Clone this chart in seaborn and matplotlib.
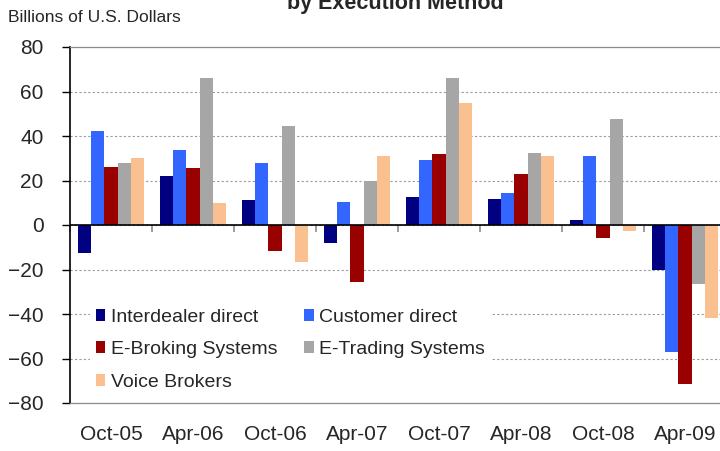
import pandas as pd
import matplotlib.pyplot as plt
import seaborn as sns

periods = ['Oct-05', 'Apr-06', 'Oct-06', 'Apr-07', 'Oct-07', 'Apr-08', 'Oct-08', 'Apr-09']
interdealer_direct = [-12.7, 22.2, 11.2, -7.9, 12.7, 11.8, 2.4, -20.0]
customer_direct = [42.1, 33.7, 27.7, 10.2, 29.2, 14.4, 31.0, -57.0]
e_broking = [26.2, 25.8, -11.7, -25.8, 32.1, 23.1, -5.7, -71.3]
e_trading = [28.0, 66.2, 44.6, 19.6, 66.2, 32.4, 47.8, -26.6]
voice_brokers = [30.1, 9.9, -16.6, 30.9, 54.8, 31.2, -2.5, -41.7]

series_names = ['Interdealer direct', 'Customer direct', 'E-Broking Systems',
                'E-Trading Systems', 'Voice Brokers']
colors = ['#000080', '#3366FF', '#990000', '#A6A6A6', '#FAC090']

wide = pd.DataFrame({
    'period': periods,
    'Interdealer direct': interdealer_direct,
    'Customer direct': customer_direct,
    'E-Broking Systems': e_broking,
    'E-Trading Systems': e_trading,
    'Voice Brokers': voice_brokers,
})
df = wide.melt(id_vars='period', var_name='method', value_name='value')

sns.set_style('white')
plt.rcParams['font.family'] = ['Liberation Sans', 'DejaVu Sans']

fig = plt.figure(figsize=(7.2, 4.51), dpi=100)
ax = fig.add_axes([70 / 720, 48 / 451, 656 / 720, 356 / 451])

sns.barplot(data=df, x='period', y='value', hue='method', hue_order=series_names,
            palette=colors, width=0.8, linewidth=0, saturation=1, ax=ax)

ax.set_xlim(-0.5, 7.5)
ax.set_ylim(-80, 80)
ax.set_yticks(range(-80, 81, 20))
ax.set_xlabel('')
ax.set_ylabel('')
ax.set_axisbelow(True)
ax.yaxis.grid(True, linestyle=(0, (2, 2)), color='#9A9A9A', linewidth=0.8)
ax.axhline(0, color='black', linewidth=1.2, zorder=3)

for side in ['top', 'bottom']:
    ax.spines[side].set_color('#8C8C8C')
    ax.spines[side].set_linewidth(0.9)
    ax.spines[side].set_zorder(6)
ax.spines['right'].set_visible(False)
ax.spines['left'].set_color('black')
ax.spines['left'].set_linewidth(1.2)
ax.spines['left'].set_zorder(6)

ax.tick_params(axis='y', direction='out', length=6, width=1, color='black',
               labelsize=15, pad=13, left=True)
ax.tick_params(axis='x', length=0, labelsize=15, pad=16)

# small tick marks on the zero line between the periods
sec = ax.secondary_xaxis(0.5)
sec.set_alignment('bottom')
sec.set_xticks([i - 0.5 for i in range(len(periods))], labels=[''] * len(periods))
sec.tick_params(direction='out', length=5, width=1.2, color='#8C8C8C')
for sp in sec.spines.values():
    sp.set_visible(False)

# legend fills by column, so reorder to read across rows like the original
leg = ax.get_legend()
handles = {t.get_text(): h for t, h in zip(leg.get_texts(), leg.legend_handles)}
leg.remove()
order = ['Interdealer direct', 'E-Broking Systems', 'Voice Brokers',
         'Customer direct', 'E-Trading Systems']
ax.legend([handles[n] for n in order], order, loc='upper left',
          bbox_to_anchor=(80 / 720, 1 - 293 / 451), bbox_transform=fig.transFigure,
          ncol=2, frameon=True, facecolor='white', edgecolor='none', framealpha=1,
          fontsize=14, handlelength=0.5, handleheight=0.6, handletextpad=0.3,
          labelspacing=0.8, columnspacing=1.35, borderpad=0.3)

fig.text(8 / 720, 1 - 17 / 451, 'Billions of U.S. Dollars', va='center', fontsize=12.5)
fig.text(395 / 720, 1 - 9 / 451, 'by Execution Method', ha='center', va='baseline',
         fontsize=15.5, fontweight='bold')

fig.savefig('out.png', dpi=100)
